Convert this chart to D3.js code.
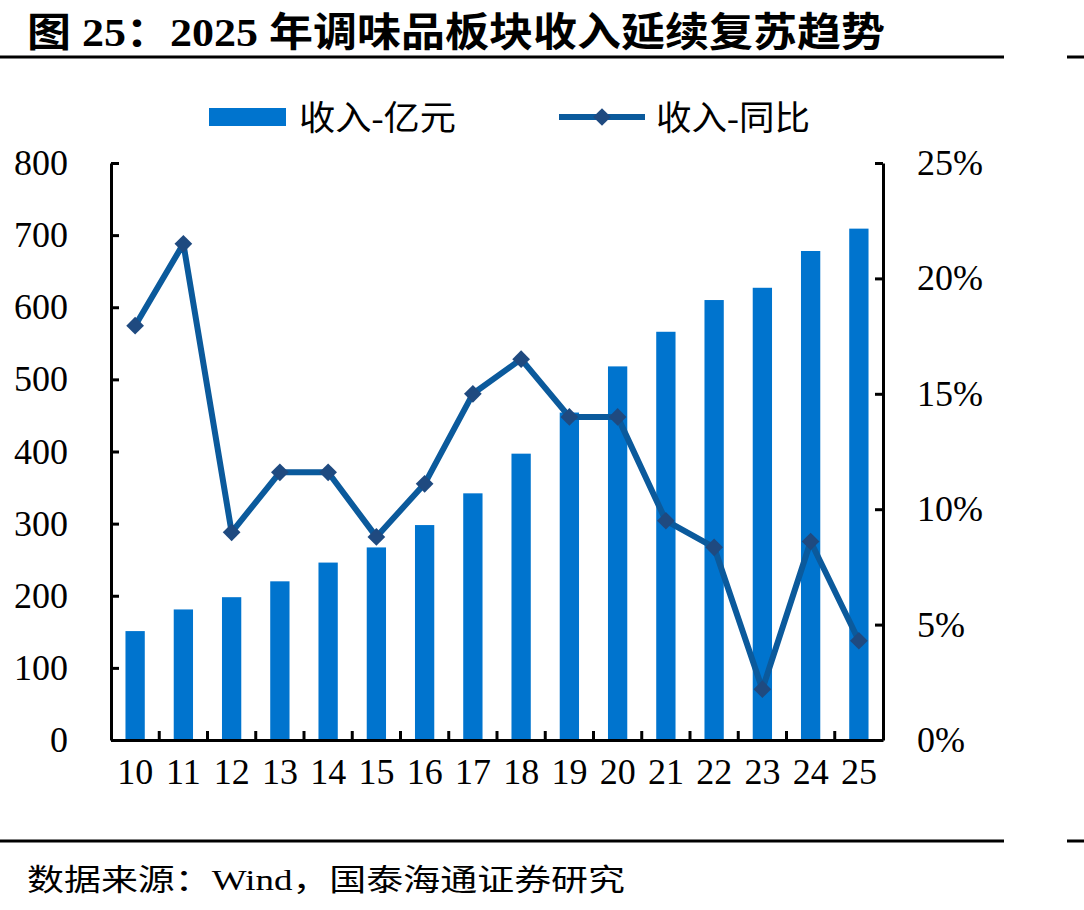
<!DOCTYPE html>
<html>
<head>
<meta charset="utf-8">
<script src="https://cdn.jsdelivr.net/npm/d3@7"></script>
<style>
  body { margin: 0; background: #fff; }
  text { font-family: "Liberation Serif", "Noto Sans CJK SC", serif; fill: #000; }
</style>
</head>
<body>
<script>
let years = ["10", "11", "12", "13", "14", "15", "16", "17", "18", "19", "20", "21", "22", "23", "24", "25"]
let revenue = [151, 181, 198, 220, 246, 267, 298, 342, 397, 454, 518, 566, 610, 627, 678, 709]
let yoy = [17.95, 21.5, 9.0, 11.6, 11.6, 8.8, 11.1, 15.0, 16.5, 14.0, 14.0, 9.5, 8.35, 2.2, 8.6, 4.3]
let leftTicks = [0, 100, 200, 300, 400, 500, 600, 700, 800]
let rightTicks = [0, 5, 10, 15, 20, 25]

let svgWidth = 1084
let svgHeight = 910
let plot = { left: 111, right: 883, top: 163, bottom: 740 }

let barColor = "#0074ce"
let lineColor = "#0b5a9c"
let markerColor = "#1f4a80"

let svg = d3.select("body").append("svg")
    .attr("width", svgWidth)
    .attr("height", svgHeight)

// title
svg.append("text")
    .attr("x", 27)
    .attr("y", 46)
    .attr("font-size", 40)
    .attr("font-weight", "bold")
    .attr("textLength", 858)
    .attr("lengthAdjust", "spacingAndGlyphs")
    .text("图 25：2025 年调味品板块收入延续复苏趋势")

// rules
function rule(y) {
    svg.append("rect").attr("x", 0).attr("y", y - 1.5).attr("width", 1004).attr("height", 3).attr("fill", "#000")
    svg.append("rect").attr("x", 1067).attr("y", y - 1.5).attr("width", 17).attr("height", 3).attr("fill", "#000")
}
rule(57)
rule(841)

// scales
let xScale = d3.scaleBand()
    .domain(years)
    .range([plot.left, plot.right])
    .paddingInner(0.6)
    .paddingOuter(0.3)

let yLeft = d3.scaleLinear().domain([0, 800]).range([plot.bottom, plot.top])
let yRight = d3.scaleLinear().domain([0, 25]).range([plot.bottom, plot.top])

// bars
svg.append("g").selectAll("rect")
    .data(revenue)
    .enter().append("rect")
    .attr("x", (d, i) => xScale(years[i]))
    .attr("y", d => yLeft(d))
    .attr("width", xScale.bandwidth())
    .attr("height", d => yLeft(0) - yLeft(d))
    .attr("fill", barColor)

// axes
let leftAxis = d3.axisLeft(yLeft).tickValues(leftTicks).tickSize(-8).tickSizeOuter(0).tickPadding(43)
let gl = svg.append("g").attr("transform", "translate(" + plot.left + ",0)").call(leftAxis)

let rightAxis = d3.axisRight(yRight).tickValues(rightTicks).tickSize(-8).tickSizeOuter(0).tickPadding(34)
    .tickFormat(d => d + "%")
let gr = svg.append("g").attr("transform", "translate(" + plot.right + ",0)").call(rightAxis)

let bottomAxis = d3.axisBottom(xScale).tickSize(0).tickPadding(18)
let gb = svg.append("g").attr("transform", "translate(0," + plot.bottom + ")").call(bottomAxis)

// ticks between categories, pointing up
let step = xScale.step()
svg.append("g").selectAll("line")
    .data(years.slice(1))
    .enter().append("line")
    .attr("x1", d => xScale(d) + xScale.bandwidth() / 2 - step / 2)
    .attr("x2", d => xScale(d) + xScale.bandwidth() / 2 - step / 2)
    .attr("y1", plot.bottom)
    .attr("y2", plot.bottom - 9)
    .attr("stroke", "#000")
    .attr("stroke-width", 3)

;[gl, gr, gb].forEach(g => {
    g.select(".domain").attr("stroke", "#000").attr("stroke-width", 3)
    g.selectAll(".tick line").attr("stroke", "#000").attr("stroke-width", 3)
    g.selectAll(".tick text")
        .attr("font-size", 36)
        .style("font-family", "'Liberation Serif', serif")
})

// line
let line = d3.line()
    .x((d, i) => xScale(years[i]) + xScale.bandwidth() / 2)
    .y(d => yRight(d))

svg.append("path")
    .datum(yoy)
    .attr("d", line)
    .attr("fill", "none")
    .attr("stroke", lineColor)
    .attr("stroke-width", 6)
    .attr("stroke-linejoin", "round")

let diamond = d3.symbol().type(d3.symbolDiamond2).size(200)
svg.append("g").selectAll("path")
    .data(yoy)
    .enter().append("path")
    .attr("d", diamond)
    .attr("transform", (d, i) => "translate(" + (xScale(years[i]) + xScale.bandwidth() / 2) + "," + yRight(d) + ")")
    .attr("fill", markerColor)

// legend
let legend = svg.append("g")
legend.append("rect")
    .attr("x", 209).attr("y", 108).attr("width", 77).attr("height", 18)
    .attr("fill", barColor)
legend.append("text")
    .attr("x", 299).attr("y", 130)
    .attr("font-size", 34)
    .attr("textLength", 157)
    .attr("lengthAdjust", "spacingAndGlyphs")
    .text("收入-亿元")
legend.append("line")
    .attr("x1", 559).attr("x2", 645).attr("y1", 117).attr("y2", 117)
    .attr("stroke", lineColor).attr("stroke-width", 6)
legend.append("path")
    .attr("d", diamond)
    .attr("transform", "translate(602,117)")
    .attr("fill", markerColor)
legend.append("text")
    .attr("x", 656).attr("y", 130)
    .attr("font-size", 34)
    .attr("textLength", 154)
    .attr("lengthAdjust", "spacingAndGlyphs")
    .text("收入-同比")

// source
svg.append("text")
    .attr("x", 27)
    .attr("y", 890)
    .attr("font-size", 30)
    .attr("textLength", 598)
    .attr("lengthAdjust", "spacingAndGlyphs")
    .text("数据来源：Wind，国泰海通证券研究")
</script>
</body>
</html>
